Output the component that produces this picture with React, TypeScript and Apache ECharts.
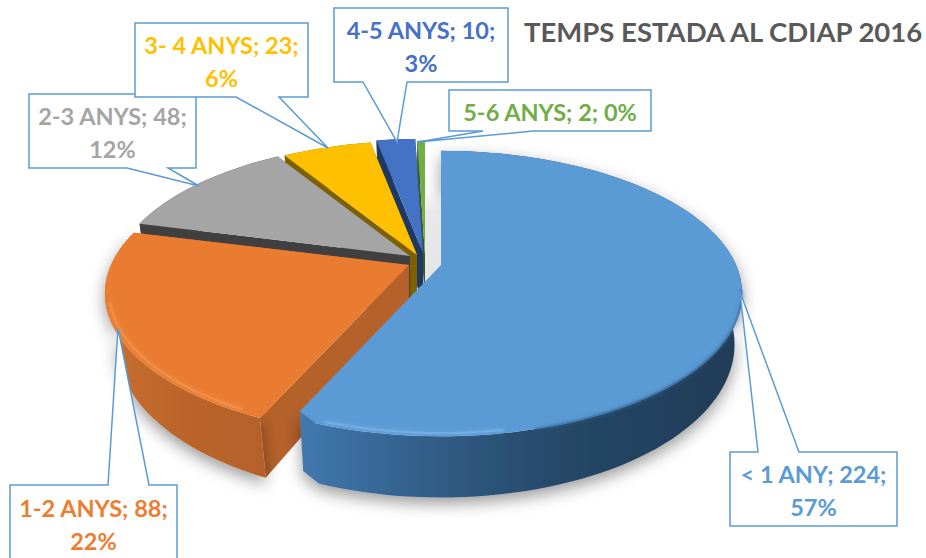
import React, { useEffect, useRef } from "react";
import * as echarts from "echarts";

const categories = ["< 1 ANY", "1-2 ANYS", "2-3 ANYS", "3- 4 ANYS", "4-5 ANYS", "5-6 ANYS"];
const values = [224, 88, 48, 23, 10, 2];
const percents = [57, 22, 12, 6, 3, 0];
const titleText = "TEMPS ESTADA AL CDIAP 2016";

const topColors = ["#5B9BD5", "#E97C30", "#A5A5A5", "#FFC000", "#4472C4", "#70AD47"];
const wallColors = ["#255E91", "#B5612A", "#404040", "#7F6000", "#1F3864", "#385723"];
const labelColors = ["#5B9BD5", "#ED7D31", "#A5A5A5", "#FFC000", "#4472C4", "#70AD47"];

// exploded position of each slice's apex, and its horizontal radius
const apexX = [441, 409, 410, 417, 423, 425];
const apexY = [265, 265, 256, 255, 253, 255];
const radiusX = [295, 298, 293, 293, 293, 293];
const floorShrink = [0.975, 0.96, 0.975, 0.975, 0.975, 0.975];
const RY = 137;
const PERSP = 0.2;
const DEPTH = 49;

// callouts: box [x0,y0,x1,y1], wedge base x0,x1 and tip, side of box
const boxes = [
  [730, 452, 897, 526],
  [10, 485, 177, 562],
  [29, 94, 196, 168],
  [135, 23, 308, 97],
  [334, 8, 508, 82],
  [449, 90, 651, 131],
];
const wedges = [
  [758, 799, 740, 292, "top"],
  [108, 149, 118, 328, "top"],
  [127, 168, 199, 186, "bottom"],
  [236, 279, 328, 148, "bottom"],
  [363, 407, 397, 142, "bottom"],
  [483, 533, 418, 142, "bottom"],
];
const drawOrder = [2, 3, 4, 5, 0, 1];

const total = values.reduce((a, b) => a + b, 0);
const project = (i: number, deg: number, r = 1, drop = 0): number[] => {
  const a = (deg * Math.PI) / 180;
  const u = r * Math.sin(a);
  const v = r * Math.cos(a);
  const s = 1 / (1 + PERSP * v);
  const shrink = drop > 0 ? floorShrink[i] : 1;
  return [apexX[i] + radiusX[i] * u * s * shrink, apexY[i] - RY * v * s + drop * s];
};
const arc = (i: number, a0: number, a1: number, r = 1, drop = 0): number[][] => {
  const pts: number[][] = [];
  const n = Math.max(2, Math.ceil(Math.abs(a1 - a0) / 2));
  for (let k = 0; k <= n; k++) pts.push(project(i, a0 + ((a1 - a0) * k) / n, r, drop));
  return pts;
};

function softLine(points: number[][], color: string, width: number, z2: number, opacity = 0.85) {
  return {
    type: "polyline",
    z2,
    shape: { points },
    style: { stroke: color, lineWidth: width, fill: null, opacity, shadowBlur: 4, shadowColor: color },
  };
}

function renderSlice(params: any, api: any) {
  const i = params.dataIndex;
  const value = api.value(1);
  let before = 0;
  for (let k = 0; k < i; k++) before += values[k];
  const a0 = (before / total) * 360;
  const a1 = a0 + (value / total) * 360;
  const base = (values.length - i) * 10;
  const apex = project(i, 0, 0);
  const apexLow = project(i, 0, 0, DEPTH);
  const children: any[] = [];

  const radial = (deg: number) => {
    const p = project(i, deg);
    const q = project(i, deg, 1, DEPTH);
    children.push({
      type: "polygon",
      z2: base,
      shape: { points: [apex, p, q, apexLow] },
      style: { fill: wallColors[i] },
    });
  };
  if (i !== 0) {
    radial(a0);
    radial(a1);
  }

  let wallFill: any = wallColors[i];
  if (i === 0) {
    wallFill = new echarts.graphic.LinearGradient(0, 0, 1, 0, [
      { offset: 0, color: "#4279AF" },
      { offset: 0.25, color: "#33618D" },
      { offset: 0.6, color: "#254766" },
      { offset: 1, color: "#203C57" },
    ]);
  } else if (i === 1) {
    wallFill = new echarts.graphic.LinearGradient(0, 0, 1, 0, [
      { offset: 0, color: "#C9702F" },
      { offset: 0.5, color: "#BA642B" },
      { offset: 1, color: "#B5612A" },
    ]);
  }
  // the big slice's outer corner is rounded off by its bevel
  const topArc = i === 0 ? [...arc(i, a0, a1 - 4), project(i, a1, 0.965)] : arc(i, a0, a1);
  const lowArc = i === 0 ? [...arc(i, a0, a1 - 4, 1, DEPTH), project(i, a1, 0.965, DEPTH)] : arc(i, a0, a1, 1, DEPTH);
  children.push({
    type: "polygon",
    z2: base + 1,
    shape: { points: [...topArc, ...lowArc.reverse()] },
    style: {
      fill: wallFill,
      shadowBlur: i < 2 ? 16 : 0,
      shadowColor: "rgba(0,0,0,0.4)",
      shadowOffsetY: i < 2 ? 6 : 0,
    },
  });
  children.push({
    type: "polygon",
    z2: base + 2,
    shape: { points: [apex, ...topArc] },
    style: { fill: topColors[i] },
  });
  if (i === 0) {
    children.push(softLine(arc(i, 100, 165, 0.998), "#3F74A6", 2, base + 3, 0.7));
    children.push(softLine(arc(i, 170, 199, 0.985), "#7DB6EA", 2, base + 3, 0.6));
  }
  if (i === 1) {
    children.push(softLine(arc(i, 208, 255, 0.985), "#F59A55", 2, base + 3, 0.6));
  }
  return { type: "group", children };
}

function calloutPoints(k: number): number[][] {
  const [x0, y0, x1, y1] = boxes[k];
  const [w0, w1, tx, ty, side] = wedges[k] as [number, number, number, number, string];
  if (side === "top") {
    return [[x0, y0], [w0, y0], [tx, ty], [w1, y0], [x1, y0], [x1, y1], [x0, y1]];
  }
  return [[x0, y0], [x1, y0], [x1, y1], [w1, y1], [tx, ty], [w0, y1], [x0, y1]];
}

function labelText(k: number): string {
  if (k === 5) return `${categories[k]}; ${values[k]}; ${percents[k]}%`;
  return `${categories[k]}; ${values[k]};\n${percents[k]}%`;
}

export default function App() {
  const ref = useRef<HTMLDivElement>(null);
  useEffect(() => {
    document.body.style.margin = "0";
    const chart = echarts.init(ref.current!, undefined, { renderer: "svg" });
    const graphics: any[] = [
      {
        type: "polygon",
        z: 1,
        shape: { points: [[425, 188], [441, 188], [441, 266], [424, 284]] },
        style: {
          fill: new echarts.graphic.LinearGradient(0, 0, 0, 1, [
            { offset: 0, color: "#FFFFFF" },
            { offset: 0.25, color: "#E8E8E8" },
            { offset: 1, color: "#E6E6E6" },
          ]),
        },
      },
    ];
    drawOrder.forEach((k, n) => {
      graphics.push({
        type: "polygon",
        z: 20 + n * 2,
        shape: { points: calloutPoints(k) },
        style: { fill: "#FFFFFF", stroke: "#5B9BD5", lineWidth: 1.5 },
      });
      const b = boxes[k];
      const two = k !== 5;
      graphics.push({
        type: "text",
        z: 21 + n * 2,
        x: (b[0] + b[2]) / 2,
        y: k === 1 ? b[1] + 39 : (b[1] + b[3]) / 2 + 1,
        style: {
          text: labelText(k),
          fill: labelColors[k],
          fontFamily: "Lato",
          fontWeight: "bold",
          fontSize: 23.5,
          align: "center",
          verticalAlign: "middle",
          textAlign: "center",
          textVerticalAlign: "middle",
          lineHeight: two ? 33 : 24,
        },
      });
    });
    chart.setOption({
      animation: false,
      backgroundColor: "#FFFFFF",
      title: {
        text: titleText,
        left: 519,
        top: 12,
        textStyle: { fontFamily: "Lato", fontWeight: "bold", fontSize: 27.5, color: "#595959" },
      },
      tooltip: { show: false },
      graphic: { elements: graphics },
      series: [
        {
          type: "custom",
          coordinateSystem: "none",
          renderItem: renderSlice,
          silent: true,
          z: 5,
          data: values.map((v, i) => [i, v]),
        },
      ],
    });
    return () => chart.dispose();
  }, []);
  return <div ref={ref} style={{ width: 926, height: 558 }} />;
}
